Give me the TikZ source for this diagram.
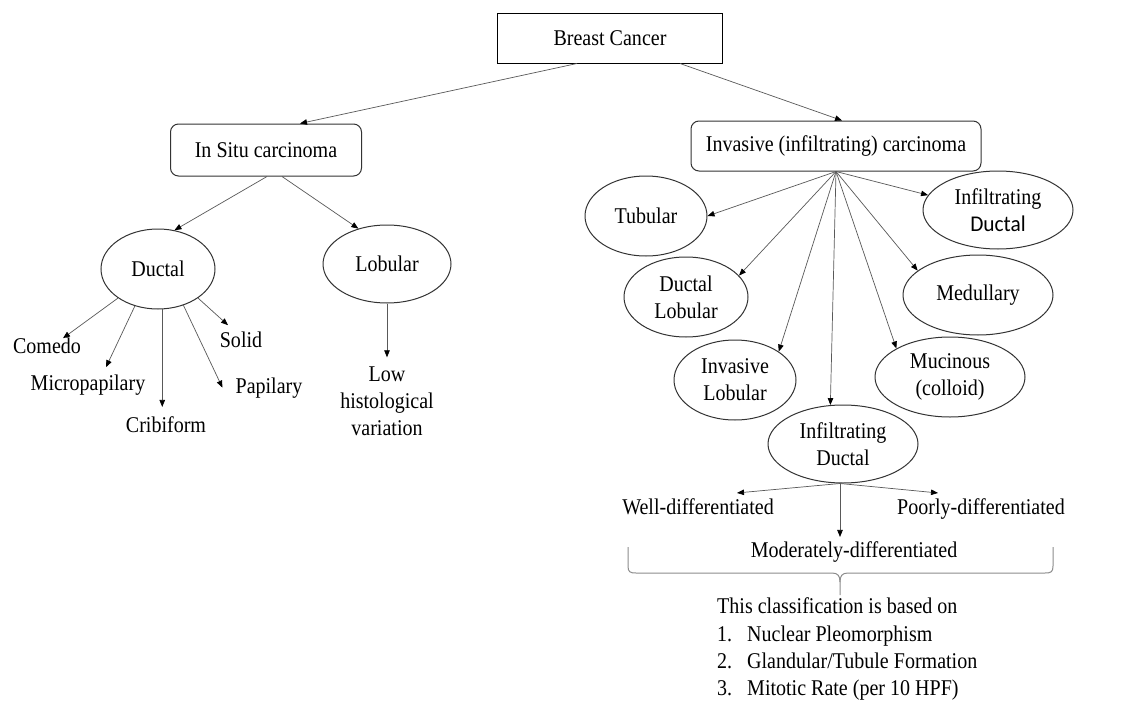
\documentclass[tikz,border=0pt]{standalone}
\usepackage{fontspec}
\setmainfont[FakeStretch=0.89]{Liberation Serif}
\newfontfamily\calfont[FakeStretch=0.95]{Carlito}
\usetikzlibrary{arrows.meta,shapes.geometric}
\begin{document}
\begin{tikzpicture}[x=1pt,y=-1pt,
  font=\fontsize{22.5}{27}\selectfont,
  arr/.style={draw=black!65, line width=0.7pt, -{Triangle[length=7pt,width=5.5pt,color=black]}},
  sqbox/.style={draw=black, line width=1pt, inner sep=0, minimum width=225pt, minimum height=50pt},
  rbox/.style={draw=black!80, line width=1pt, rounded corners=8pt, inner sep=0},
  ell/.style={ellipse, draw=black!80, line width=1pt, inner sep=0, align=center},
  lbl/.style={inner sep=0, anchor=base},
  bracecol/.style={draw=black!45, line width=1pt}
]
\useasboundingbox[fill=white] (0,0) rectangle (1144,704);

% top level
\node[sqbox] (bc) at (610,38) {Breast Cancer};
\node[rbox, minimum width=191pt, minimum height=52pt] (isc) at (266,150) {In Situ carcinoma};
\node[rbox, minimum width=290pt, minimum height=50pt] (inv) at (836,146) {Invasive (infiltrating) carcinoma};

\draw[arr] ([xshift=-33pt]bc.south) -- ([xshift=34pt]isc.north);
\draw[arr] ([xshift=70pt]bc.south) -- ([xshift=6pt]inv.north);

% in situ branch
\node[ell, minimum width=114pt, minimum height=80pt] (duc) at (158,269) {Ductal};
\node[ell, minimum width=128pt, minimum height=78pt] (lob) at (387,264) {Lobular};
\draw[arr] ([xshift=1pt]isc.south) -- (duc.67);
\draw[arr] ([xshift=16pt]isc.south) -- (lob.129);

\node[lbl] (com) at (47,353) {Comedo};
\node[lbl] (mic) at (88,390) {Micropapilary};
\node[lbl] (cri) at (166,432) {Cribiform};
\node[lbl] (pap) at (269,393) {Papilary};
\node[lbl] (sol) at (241,347) {Solid};
\node[inner sep=0, align=center] (low) at (387,401) {Low\\histological\\variation};

\draw[arr] (duc.216) -- ([xshift=16pt,yshift=-1pt]com.north);
\draw[arr] (duc.238) -- ([xshift=18pt,yshift=7pt]mic.north);
\draw[arr, shorten >=9pt] (duc.276) -- (duc.276 |- cri.north);
\draw[arr] (duc.305) -- ([xshift=-13pt]pap.west);
\draw[arr] (duc.324) -- ([xshift=-13pt,yshift=6pt]sol.north);
\draw[arr, shorten >=9pt] (lob.south) -- (low.north);

% invasive branch
\node[ell, minimum width=122pt, minimum height=80pt] (tub) at (646,216) {Tubular};
\node[ell, minimum width=150pt, minimum height=78pt] (idt) at (998,210) {Infiltrating\\{\calfont Ductal}};
\node[ell, minimum width=124pt, minimum height=80pt] (dlo) at (686,297) {Ductal\\Lobular};
\node[ell, minimum width=150pt, minimum height=80pt] (med) at (978,295) {Medullary};
\node[ell, minimum width=122pt, minimum height=80pt] (ilo) at (735,380) {Invasive\\Lobular};
\node[ell, minimum width=150pt, minimum height=80pt] (muc) at (950,377) {Mucinous\\(colloid)};
\node[ell, minimum width=150pt, minimum height=78pt] (idb) at (843,444) {Infiltrating\\Ductal};

\draw[arr] (inv.south) -- (tub.east);
\draw[arr] (inv.south) -- (idt.168);
\draw[arr] (inv.south) -- (dlo.22);
\draw[arr] (inv.south) -- (med.158);
\draw[arr] (inv.south) -- (ilo.33);
\draw[arr] (inv.south) -- (muc.152);
\draw[arr] (inv.south) -- (idb.108);

\node[lbl] (well) at (698,514) {Well-differentiated};
\node[lbl] (poor) at (981,514) {Poorly-differentiated};
\node[lbl] (mod) at (854,557) {Moderately-differentiated};

\draw[arr] ([xshift=-3pt]idb.south) -- ([xshift=39pt,yshift=5pt]well.north);
\draw[arr] ([xshift=-3pt]idb.south) -- ([xshift=-43pt,yshift=5pt]poor.north);
\draw[arr, shorten >=4pt] ([xshift=-3pt]idb.south) -- ([xshift=-3pt]idb.south |- mod.north);

% brace
\draw[bracecol] (628,547) -- (628,566) .. controls (628,572) and (630,573) .. (636,573)
  -- (832,573) .. controls (838,573) and (840,576) .. (840,582) -- (840,595);
\draw[bracecol] (1053,547) -- (1053,566) .. controls (1053,572) and (1051,573) .. (1045,573)
  -- (848,573) .. controls (842,573) and (840,576) .. (840,582);

% classification text
\node[inner sep=0, anchor=base west] (cl0) at (717,613) {This classification is based on};
\node[inner sep=0, anchor=base west] (cl1) at (717,641) {\makebox[30pt][l]{1.}Nuclear Pleomorphism};
\node[inner sep=0, anchor=base west] (cl2) at (717,668) {\makebox[30pt][l]{2.}Glandular/Tubule Formation};
\node[inner sep=0, anchor=base west] (cl3) at (717,695) {\makebox[30pt][l]{3.}Mitotic Rate (per 10 HPF)};
\end{tikzpicture}
\end{document}
